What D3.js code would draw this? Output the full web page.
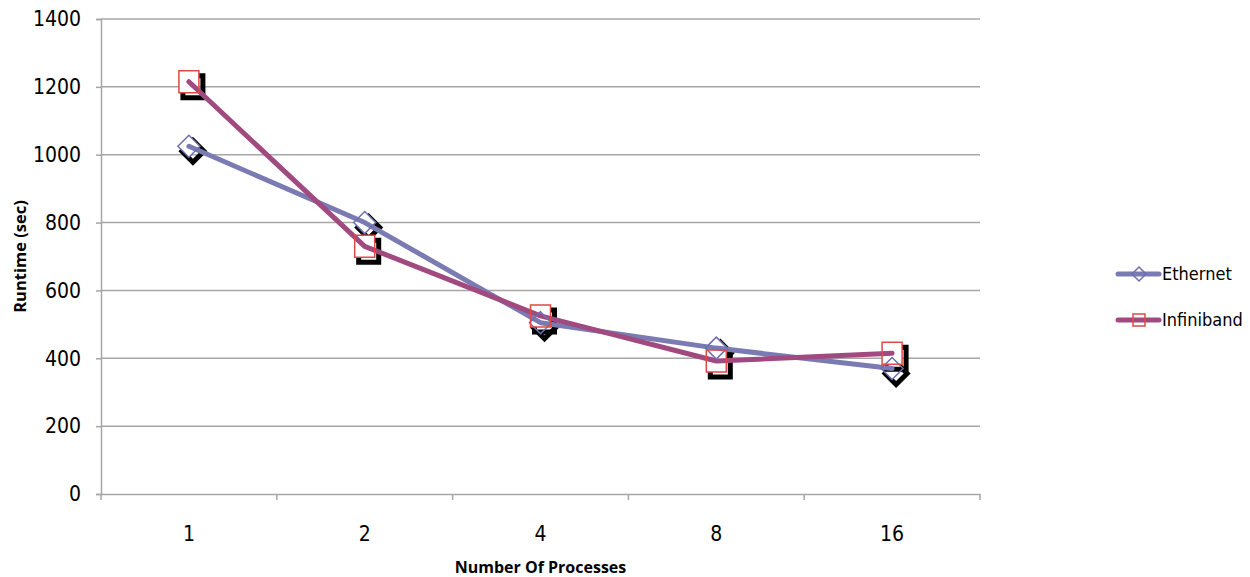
<!DOCTYPE html>
<html><head><meta charset="utf-8">
<script src="https://cdn.jsdelivr.net/npm/d3@7"></script>
<style>
body{margin:0;background:#fff;}
text{fill:#000;}
.lab{font-family:"Liberation Sans Narrow","DejaVu Sans Condensed",sans-serif;}
.ttl{font-family:"Open Sans",sans-serif;font-weight:bold;}
</style></head>
<body><svg id="c" width="1250" height="577"></svg>
<script>
const categories = ["1","2","4","8","16"];
const ethernet = [1025, 800, 505, 430, 370];
const infiniband = [1215, 730, 525, 392, 415];
const yTicks = [0,200,400,600,800,1000,1200,1400];
const seriesNames = ["Ethernet","Infiniband"];
const colors = ["#7b7bb3","#a14a7f"];
const markerColors = ["#6f6fb0","#e04848"];

const svg = d3.select("#c");
const pL=101, pR=980, pT=19, pB=494;
const x = d3.scaleBand().domain(categories).range([pL,pR]);
const y = d3.scaleLinear().domain([0,1400]).range([pB,pT]);

// gridlines
svg.append("g").selectAll("line").data(yTicks.filter(d=>d>0)).join("line")
  .attr("x1",pL).attr("x2",pR).attr("y1",d=>y(d)).attr("y2",d=>y(d))
  .attr("stroke","#a6a6a6").attr("stroke-width",1.5);

// y axis
const ya = svg.append("g").attr("transform",`translate(${pL},0)`)
  .call(d3.axisLeft(y).tickValues(yTicks).tickFormat(d3.format("d")).tickSize(5).tickPadding(15));
ya.select(".domain").attr("stroke","#a6a6a6").attr("stroke-width",1.5);
ya.selectAll(".tick line").attr("stroke","#a6a6a6").attr("stroke-width",1.5);
ya.selectAll("text").attr("class","lab").style("font-size","21px").attr("fill","#000");

// x axis
const xa = svg.append("g").attr("transform",`translate(0,${pB})`)
  .call(d3.axisBottom(x).tickSize(0).tickPadding(32));
xa.select(".domain").attr("stroke","#a6a6a6").attr("stroke-width",1.5);
xa.selectAll("text").attr("class","lab").style("font-size","21px").attr("fill","#000");
const bounds = categories.map(c=>x(c)).concat([pR]);
xa.selectAll(".bt").data(bounds).join("line").attr("class","bt")
  .attr("x1",d=>d).attr("x2",d=>d).attr("y1",0).attr("y2",6)
  .attr("stroke","#a6a6a6").attr("stroke-width",1.5);

// axis titles
svg.append("text").attr("class","ttl").attr("x",(pL+pR)/2).attr("y",573).attr("text-anchor","middle")
  .style("font-size","16px").text("Number Of Processes");
svg.append("text").attr("class","ttl").attr("transform",`translate(26,${(pT+pB)/2}) rotate(-90)`).attr("text-anchor","middle")
  .style("font-size","16.5px").text("Runtime (sec)");

const data = [ethernet, infiniband];
const cx = c => x(c)+x.bandwidth()/2;
const diamond = "M0,-11L11,0L0,11L-11,0Z";
const square = "M-10,-11H10V11H-10Z";
const shapes=[diamond, square];

// shadows
data.forEach((vals,i)=>{
  svg.append("g").selectAll("path").data(vals).join("path")
    .attr("d",shapes[i])
    .attr("transform",(d,j)=>`translate(${cx(categories[j])+4},${y(d)+5})`)
    .attr("fill","none").attr("stroke","#000").attr("stroke-width",5);
  svg.append("g").selectAll("path").data(vals).join("path")
    .attr("d",shapes[i])
    .attr("transform",(d,j)=>`translate(${cx(categories[j])},${y(d)})`)
    .attr("fill","#fff").attr("stroke","none");
});
// lines
const line = d3.line().x((d,j)=>cx(categories[j])).y(d=>y(d));
data.forEach((vals,i)=>{
  svg.append("path").datum(vals).attr("d",line).attr("fill","none")
    .attr("stroke",colors[i]).attr("stroke-width",5).attr("stroke-linecap","round").attr("stroke-linejoin","round");
});
// marker outlines
data.forEach((vals,i)=>{
  svg.append("g").selectAll("path").data(vals).join("path")
    .attr("d",shapes[i])
    .attr("transform",(d,j)=>`translate(${cx(categories[j])},${y(d)})`)
    .attr("fill","none").attr("stroke",markerColors[i]).attr("stroke-width",1.5);
});

// legend
const leg = svg.append("g");
seriesNames.forEach((n,i)=>{
  const ly = 274 + i*46;
  leg.append("line").attr("x1",1118).attr("x2",1159).attr("y1",ly).attr("y2",ly)
    .attr("stroke",colors[i]).attr("stroke-width",5).attr("stroke-linecap","round");
  leg.append("path").attr("d",i===0?"M0,-7L7,0L0,7L-7,0Z":"M-6,-6H6V6H-6Z")
    .attr("transform",`translate(1139,${ly})`).attr("fill","none")
    .attr("stroke",markerColors[i]).attr("stroke-width",1.5);
  leg.append("text").attr("class","lab").attr("x",1162).attr("y",ly+6).style("font-size","18px").text(n);
});
</script></body></html>
